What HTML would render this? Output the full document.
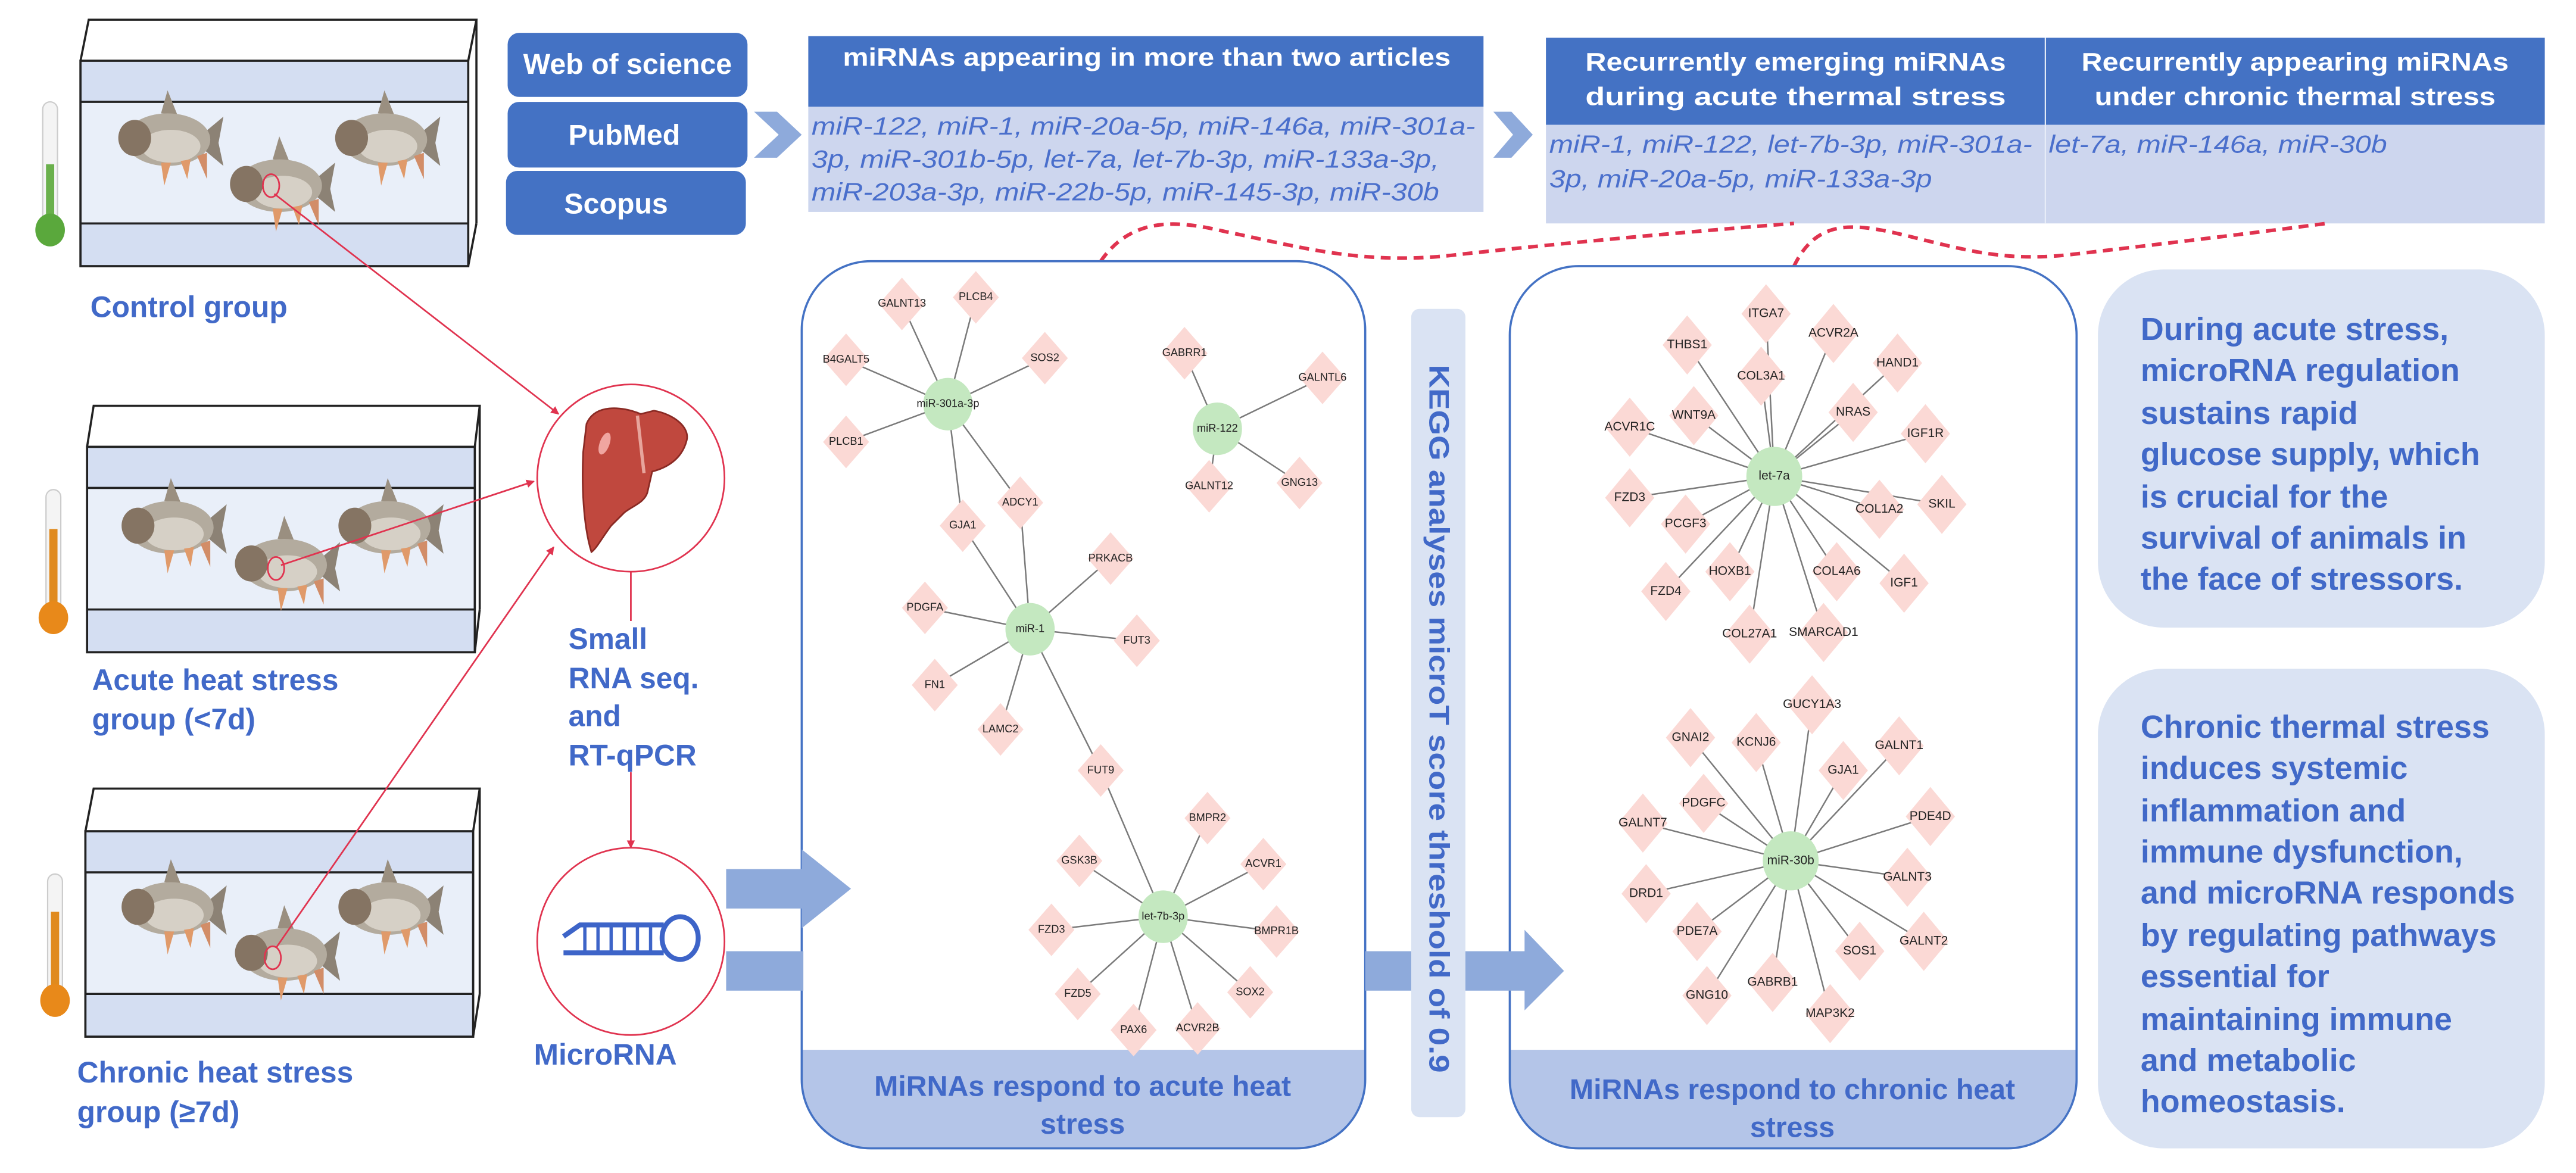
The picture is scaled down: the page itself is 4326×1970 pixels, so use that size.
<!DOCTYPE html>
<html><head><meta charset="utf-8"><style>
html,body{margin:0;padding:0;background:#fff}
svg{display:block}
.lb{font-family:"Liberation Sans",sans-serif;font-weight:bold;fill:#4169c8}
.hd{font-family:"Liberation Sans",sans-serif;font-weight:bold;fill:#fff}
.it{font-family:"Liberation Sans",sans-serif;font-style:italic;fill:#4a6fcc;font-size:15px}
.n{font-family:"Liberation Sans",sans-serif;font-size:6.6px;fill:#222;text-anchor:middle;dominant-baseline:middle}
.n2{font-family:"Liberation Sans",sans-serif;font-size:7.6px;fill:#222;text-anchor:middle;dominant-baseline:middle}
.e line{stroke:#7a7a7a;stroke-width:0.9}
</style></head><body>
<svg width="4326" height="1970" viewBox="0 0 1568 714" preserveAspectRatio="none" xmlns="http://www.w3.org/2000/svg">
<defs>
<g id="fish">
<polygon points="22,-4 34,-14 31,2 34,16 22,6" fill="#8c8275"/>
<polygon points="-4,-16 0,-30 6,-15" fill="#9a8f80"/>
<ellipse cx="0" cy="0" rx="26" ry="16" fill="#b3ab9e"/>
<ellipse cx="2" cy="4" rx="18" ry="10" fill="#d6d0c6"/>
<ellipse cx="-20" cy="-1" rx="10" ry="11" fill="#857463"/>
<polygon points="-4,14 -2,28 2,14" fill="#e09a6a"/>
<polygon points="8,13 12,24 14,12" fill="#e09a6a"/>
<polygon points="18,10 24,24 24,8" fill="#d28d68"/>
</g>
<marker id="ar" viewBox="0 0 10 10" refX="9" refY="5" markerWidth="5" markerHeight="5" orient="auto"><path d="M0,0 L10,5 L0,10 z" fill="#e0334f"/></marker>
<clipPath id="c1"><rect x="488" y="159" width="343" height="540" rx="42"/></clipPath>
<clipPath id="c2"><rect x="919" y="162" width="345" height="537" rx="42"/></clipPath>
</defs>

<!-- tanks -->
<g stroke="#222" stroke-width="1.3">
<rect x="49" y="37" width="236" height="125" fill="#e9eff9"/>
<rect x="49" y="37" width="236" height="25" fill="#d4def2" stroke="none"/>
<rect x="49" y="136" width="236" height="26" fill="#d4def2" stroke="none"/>
<polyline points="49,37 54,12 290,12 285,37" fill="none"/>
<line x1="290" y1="12" x2="290" y2="136"/>
<line x1="285" y1="162" x2="290" y2="136"/>
<rect x="49" y="37" width="236" height="125" fill="none"/>
<line x1="49" y1="62" x2="285" y2="62"/><line x1="49" y1="136" x2="285" y2="136"/>

<rect x="53" y="272" width="236" height="125" fill="#e9eff9"/>
<rect x="53" y="272" width="236" height="25" fill="#d4def2" stroke="none"/>
<rect x="53" y="371" width="236" height="26" fill="#d4def2" stroke="none"/>
<polyline points="53,272 57,247 292,247 289,272" fill="none"/>
<line x1="292" y1="247" x2="292" y2="371"/><line x1="289" y1="397" x2="292" y2="371"/>
<rect x="53" y="272" width="236" height="125" fill="none"/>
<line x1="53" y1="297" x2="289" y2="297"/><line x1="53" y1="371" x2="289" y2="371"/>

<rect x="52" y="506" width="236" height="125" fill="#e9eff9"/>
<rect x="52" y="506" width="236" height="25" fill="#d4def2" stroke="none"/>
<rect x="52" y="605" width="236" height="26" fill="#d4def2" stroke="none"/>
<polyline points="52,506 57,480 292,480 288,506" fill="none"/>
<line x1="292" y1="480" x2="292" y2="605"/><line x1="288" y1="631" x2="292" y2="605"/>
<rect x="52" y="506" width="236" height="125" fill="none"/>
<line x1="52" y1="531" x2="288" y2="531"/><line x1="52" y1="605" x2="288" y2="605"/>
</g>
<use href="#fish" x="102" y="85"/><use href="#fish" x="234" y="85"/><use href="#fish" x="170" y="113"/>
<use href="#fish" x="104" y="321"/><use href="#fish" x="236" y="321"/><use href="#fish" x="173" y="344"/>
<use href="#fish" x="104" y="553"/><use href="#fish" x="236" y="553"/><use href="#fish" x="173" y="581"/>

<!-- thermometers -->
<rect x="26" y="62" width="9" height="78" rx="4.5" fill="#f4f4f4" stroke="#ccc" stroke-width="0.8"/>
<rect x="28" y="100" width="5" height="40" fill="#6ab04c"/>
<ellipse cx="30.5" cy="140" rx="9" ry="10" fill="#5aa83c"/>
<rect x="28" y="298" width="9" height="78" rx="4.5" fill="#f4f4f4" stroke="#ccc" stroke-width="0.8"/>
<rect x="30" y="322" width="5" height="54" fill="#e08a1e"/>
<ellipse cx="32.5" cy="376" rx="9" ry="10" fill="#e8891a"/>
<rect x="29" y="532" width="9" height="78" rx="4.5" fill="#f4f4f4" stroke="#ccc" stroke-width="0.8"/>
<rect x="31" y="555" width="5" height="55" fill="#e08a1e"/>
<ellipse cx="33.5" cy="609" rx="9" ry="10" fill="#e8891a"/>

<text class="lb" x="55" y="193" font-size="18">Control group</text>
<text class="lb" x="56" y="420" font-size="18">Acute heat stress</text>
<text class="lb" x="56" y="444" font-size="18">group (&lt;7d)</text>
<text class="lb" x="47" y="659" font-size="18">Chronic heat stress</text>
<text class="lb" x="47" y="683" font-size="18">group (≥7d)</text>

<!-- red fish circles & arrows -->
<g fill="none" stroke="#e0334f" stroke-width="1">
<ellipse cx="165" cy="113" rx="5" ry="7"/><ellipse cx="168" cy="346" rx="5" ry="7"/><ellipse cx="166" cy="583" rx="5" ry="7"/>
<line x1="167" y1="118" x2="340" y2="252" marker-end="url(#ar)"/>
<line x1="171" y1="344" x2="325" y2="293" marker-end="url(#ar)"/>
<line x1="168" y1="577" x2="337" y2="333" marker-end="url(#ar)"/>
<circle cx="384" cy="291" r="57"/>
<line x1="384" y1="348" x2="384" y2="378"/>
<line x1="384" y1="470" x2="384" y2="516" marker-end="url(#ar)"/>
<circle cx="384" cy="573" r="57"/>
</g>
<!-- liver -->
<path d="M357,258 C362,246 378,247 390,252 L398,250 C410,252 420,260 418,268 C415,280 405,285 397,287 L394,300 C392,306 385,308 380,312 L372,320 C366,328 363,334 360,336 C355,320 354,295 355,275 Z" fill="#c0483e" stroke="#8a2a24" stroke-width="1"/>
<path d="M388,253 L392,288" stroke="#e7a59c" stroke-width="2"/>
<ellipse cx="368" cy="270" rx="3" ry="7" fill="#f0a5a0" transform="rotate(20 368 270)"/>

<text class="lb" x="346" y="395" font-size="18">Small</text>
<text class="lb" x="346" y="419" font-size="18">RNA seq.</text>
<text class="lb" x="346" y="442" font-size="18">and</text>
<text class="lb" x="346" y="466" font-size="18">RT-qPCR</text>
<text class="lb" x="325" y="648" font-size="18">MicroRNA</text>
<!-- microRNA icon -->
<g stroke="#3d64c8" stroke-width="3" fill="none">
<path d="M343,570 L353,563 L404,563"/><path d="M343,580 L404,580"/>
<ellipse cx="414" cy="571" rx="11" ry="13"/>
</g>
<g stroke="#3d64c8" stroke-width="2"><line x1="356" y1="563" x2="356" y2="580"/><line x1="364" y1="563" x2="364" y2="580"/><line x1="372" y1="563" x2="372" y2="580"/><line x1="380" y1="563" x2="380" y2="580"/><line x1="388" y1="563" x2="388" y2="580"/><line x1="396" y1="563" x2="396" y2="580"/></g>

<!-- databases -->
<rect x="309" y="20" width="146" height="39" rx="7" fill="#4472c4"/>
<rect x="309" y="62" width="146" height="40" rx="7" fill="#4472c4"/>
<rect x="308" y="104" width="146" height="39" rx="7" fill="#4472c4"/>
<text class="hd" x="382" y="45" font-size="17.5" text-anchor="middle">Web of science</text>
<text class="hd" x="380" y="88" font-size="17.5" text-anchor="middle">PubMed</text>
<text class="hd" x="375" y="130" font-size="17.5" text-anchor="middle">Scopus</text>
<polygon points="459,68 473,68 488,82 473,96 459,96 474,82" fill="#8eaadb"/>

<!-- header1 -->
<rect x="492" y="22" width="411" height="43" fill="#4472c4"/>
<rect x="492" y="65" width="411" height="64" fill="#cdd6ee"/>
<text class="hd" x="513" y="40" font-size="15.5" textLength="370" lengthAdjust="spacingAndGlyphs">miRNAs appearing in more than two articles</text>
<text class="it" x="494" y="82" textLength="404" lengthAdjust="spacingAndGlyphs">miR-122, miR-1, miR-20a-5p, miR-146a, miR-301a-</text>
<text class="it" x="494" y="102" textLength="382" lengthAdjust="spacingAndGlyphs">3p, miR-301b-5p, let-7a, let-7b-3p, miR-133a-3p,</text>
<text class="it" x="494" y="122" textLength="382" lengthAdjust="spacingAndGlyphs">miR-203a-3p, miR-22b-5p, miR-145-3p, miR-30b</text>
<polygon points="909,68 920,68 933,82 920,96 909,96 921,82" fill="#8eaadb"/>

<!-- header2 -->
<rect x="941" y="23" width="608" height="53" fill="#4472c4"/>
<rect x="941" y="76" width="608" height="60" fill="#cdd6ee"/>
<line x1="1245" y1="23" x2="1245" y2="136" stroke="#e8edf8" stroke-width="0.8"/>
<text class="hd" x="1093" y="43" font-size="15.5" text-anchor="middle" textLength="256" lengthAdjust="spacingAndGlyphs">Recurrently emerging miRNAs</text>
<text class="hd" x="1093" y="64" font-size="15.5" text-anchor="middle" textLength="256" lengthAdjust="spacingAndGlyphs">during acute thermal stress</text>
<text class="hd" x="1397" y="43" font-size="15.5" text-anchor="middle" textLength="260" lengthAdjust="spacingAndGlyphs">Recurrently appearing miRNAs</text>
<text class="hd" x="1397" y="64" font-size="15.5" text-anchor="middle" textLength="244" lengthAdjust="spacingAndGlyphs">under chronic thermal stress</text>
<text class="it" x="943" y="93" textLength="294" lengthAdjust="spacingAndGlyphs">miR-1, miR-122, let-7b-3p, miR-301a-</text>
<text class="it" x="943" y="114" textLength="233" lengthAdjust="spacingAndGlyphs">3p, miR-20a-5p, miR-133a-3p</text>
<text class="it" x="1247" y="93" textLength="206" lengthAdjust="spacingAndGlyphs">let-7a, miR-146a, miR-30b</text>

<!-- dashed curves -->
<g fill="none" stroke="#e0334f" stroke-width="2.2" stroke-dasharray="6,4">
<path d="M670,159 C690,130 720,135 746,141 C790,150 830,162 887,155 C960,147 1040,140 1092,136"/>
<path d="M1092,162 C1105,135 1125,136 1150,141 C1190,150 1215,160 1260,155 C1320,148 1370,142 1416,136"/>
</g>

<!-- panel1 -->
<rect x="488" y="159" width="343" height="540" rx="42" fill="#fff"/>
<rect x="488" y="639" width="343" height="60" fill="#b4c5e8" clip-path="url(#c1)"/>
<rect x="488" y="159" width="343" height="540" rx="42" fill="none" stroke="#4472c4" stroke-width="1.3"/>
<text class="lb" x="659" y="667" font-size="17.5" text-anchor="middle">MiRNAs respond to acute heat</text>
<text class="lb" x="659" y="690" font-size="17.5" text-anchor="middle">stress</text>

<g class="e">
<line x1="577" y1="246" x2="549" y2="185"/><line x1="577" y1="246" x2="594" y2="181"/><line x1="577" y1="246" x2="515" y2="219"/><line x1="577" y1="246" x2="636" y2="218"/><line x1="577" y1="246" x2="515" y2="269"/><line x1="577" y1="246" x2="621" y2="306"/><line x1="577" y1="246" x2="586" y2="320"/>
<line x1="741" y1="261" x2="721" y2="215"/><line x1="741" y1="261" x2="805" y2="230"/><line x1="741" y1="261" x2="736" y2="296"/><line x1="741" y1="261" x2="791" y2="294"/>
<line x1="627" y1="383" x2="586" y2="320"/><line x1="627" y1="383" x2="621" y2="306"/><line x1="627" y1="383" x2="676" y2="340"/><line x1="627" y1="383" x2="563" y2="370"/><line x1="627" y1="383" x2="692" y2="390"/><line x1="627" y1="383" x2="569" y2="417"/><line x1="627" y1="383" x2="609" y2="444"/><line x1="627" y1="383" x2="670" y2="469"/>
<line x1="708" y1="558" x2="670" y2="469"/><line x1="708" y1="558" x2="735" y2="498"/><line x1="708" y1="558" x2="657" y2="524"/><line x1="708" y1="558" x2="769" y2="526"/><line x1="708" y1="558" x2="640" y2="566"/><line x1="708" y1="558" x2="777" y2="567"/><line x1="708" y1="558" x2="656" y2="605"/><line x1="708" y1="558" x2="761" y2="604"/><line x1="708" y1="558" x2="690" y2="627"/><line x1="708" y1="558" x2="729" y2="626"/>
</g>
<g fill="#fbd9d5">
<path d="M549,169l14,16l-14,16l-14,-16z"/><path d="M594,165l14,16l-14,16l-14,-16z"/><path d="M515,203l14,16l-14,16l-14,-16z"/><path d="M636,202l14,16l-14,16l-14,-16z"/><path d="M515,253l14,16l-14,16l-14,-16z"/><path d="M621,290l14,16l-14,16l-14,-16z"/><path d="M586,304l14,16l-14,16l-14,-16z"/>
<path d="M721,199l14,16l-14,16l-14,-16z"/><path d="M805,214l14,16l-14,16l-14,-16z"/><path d="M736,280l14,16l-14,16l-14,-16z"/><path d="M791,278l14,16l-14,16l-14,-16z"/>
<path d="M676,324l14,16l-14,16l-14,-16z"/><path d="M563,354l14,16l-14,16l-14,-16z"/><path d="M692,374l14,16l-14,16l-14,-16z"/><path d="M569,401l14,16l-14,16l-14,-16z"/><path d="M609,428l14,16l-14,16l-14,-16z"/><path d="M670,453l14,16l-14,16l-14,-16z"/>
<path d="M735,482l14,16l-14,16l-14,-16z"/><path d="M657,508l14,16l-14,16l-14,-16z"/><path d="M769,510l14,16l-14,16l-14,-16z"/><path d="M640,550l14,16l-14,16l-14,-16z"/><path d="M777,551l14,16l-14,16l-14,-16z"/><path d="M656,589l14,16l-14,16l-14,-16z"/><path d="M761,588l14,16l-14,16l-14,-16z"/><path d="M690,611l14,16l-14,16l-14,-16z"/><path d="M729,610l14,16l-14,16l-14,-16z"/>
</g>
<g fill="#c4e8c0"><ellipse cx="577" cy="246" rx="15" ry="16"/><ellipse cx="741" cy="261" rx="15" ry="16"/><ellipse cx="627" cy="383" rx="15" ry="16"/><ellipse cx="708" cy="558" rx="15" ry="16"/></g>
<g>
<text class="n" x="577" y="246">miR-301a-3p</text><text class="n" x="741" y="261">miR-122</text><text class="n" x="627" y="383">miR-1</text><text class="n" x="708" y="558">let-7b-3p</text>
<text class="n" x="549" y="185">GALNT13</text><text class="n" x="594" y="181">PLCB4</text><text class="n" x="515" y="219">B4GALT5</text><text class="n" x="636" y="218">SOS2</text><text class="n" x="515" y="269">PLCB1</text><text class="n" x="621" y="306">ADCY1</text><text class="n" x="586" y="320">GJA1</text>
<text class="n" x="721" y="215">GABRR1</text><text class="n" x="805" y="230">GALNTL6</text><text class="n" x="736" y="296">GALNT12</text><text class="n" x="791" y="294">GNG13</text>
<text class="n" x="676" y="340">PRKACB</text><text class="n" x="563" y="370">PDGFA</text><text class="n" x="692" y="390">FUT3</text><text class="n" x="569" y="417">FN1</text><text class="n" x="609" y="444">LAMC2</text><text class="n" x="670" y="469">FUT9</text>
<text class="n" x="735" y="498">BMPR2</text><text class="n" x="657" y="524">GSK3B</text><text class="n" x="769" y="526">ACVR1</text><text class="n" x="640" y="566">FZD3</text><text class="n" x="777" y="567">BMPR1B</text><text class="n" x="656" y="605">FZD5</text><text class="n" x="761" y="604">SOX2</text><text class="n" x="690" y="627">PAX6</text><text class="n" x="729" y="626">ACVR2B</text>
</g>

<!-- panel2 -->
<rect x="919" y="162" width="345" height="537" rx="42" fill="#fff"/>
<rect x="919" y="639" width="345" height="60" fill="#b4c5e8" clip-path="url(#c2)"/>
<rect x="919" y="162" width="345" height="537" rx="42" fill="none" stroke="#4472c4" stroke-width="1.3"/>
<text class="lb" x="1091" y="669" font-size="17.5" text-anchor="middle">MiRNAs respond to chronic heat</text>
<text class="lb" x="1091" y="692" font-size="17.5" text-anchor="middle">stress</text>

<g class="e">
<line x1="1080" y1="290" x2="1075" y2="191"/><line x1="1080" y1="290" x2="1116" y2="203"/><line x1="1080" y1="290" x2="1027" y2="210"/><line x1="1080" y1="290" x2="1155" y2="221"/><line x1="1080" y1="290" x2="1072" y2="229"/><line x1="1080" y1="290" x2="1031" y2="253"/><line x1="1080" y1="290" x2="992" y2="260"/><line x1="1080" y1="290" x2="1128" y2="251"/><line x1="1080" y1="290" x2="1172" y2="264"/><line x1="1080" y1="290" x2="992" y2="303"/><line x1="1080" y1="290" x2="1144" y2="310"/><line x1="1080" y1="290" x2="1182" y2="307"/><line x1="1080" y1="290" x2="1026" y2="319"/><line x1="1080" y1="290" x2="1053" y2="348"/><line x1="1080" y1="290" x2="1118" y2="348"/><line x1="1080" y1="290" x2="1159" y2="355"/><line x1="1080" y1="290" x2="1014" y2="360"/><line x1="1080" y1="290" x2="1065" y2="386"/><line x1="1080" y1="290" x2="1110" y2="385"/>
<line x1="1090" y1="524" x2="1103" y2="429"/><line x1="1090" y1="524" x2="1029" y2="449"/><line x1="1090" y1="524" x2="1069" y2="452"/><line x1="1090" y1="524" x2="1156" y2="454"/><line x1="1090" y1="524" x2="1122" y2="469"/><line x1="1090" y1="524" x2="1037" y2="489"/><line x1="1090" y1="524" x2="1175" y2="497"/><line x1="1090" y1="524" x2="1000" y2="501"/><line x1="1090" y1="524" x2="1161" y2="534"/><line x1="1090" y1="524" x2="1002" y2="544"/><line x1="1090" y1="524" x2="1033" y2="567"/><line x1="1090" y1="524" x2="1132" y2="579"/><line x1="1090" y1="524" x2="1171" y2="573"/><line x1="1090" y1="524" x2="1079" y2="598"/><line x1="1090" y1="524" x2="1039" y2="606"/><line x1="1090" y1="524" x2="1114" y2="617"/>
</g>
<g fill="#fbd9d5">
<path d="M1075,173l15,18l-15,18l-15,-18z"/><path d="M1116,185l15,18l-15,18l-15,-18z"/><path d="M1027,192l15,18l-15,18l-15,-18z"/><path d="M1155,203l15,18l-15,18l-15,-18z"/><path d="M1072,211l15,18l-15,18l-15,-18z"/><path d="M1031,235l15,18l-15,18l-15,-18z"/><path d="M992,242l15,18l-15,18l-15,-18z"/><path d="M1128,233l15,18l-15,18l-15,-18z"/><path d="M1172,246l15,18l-15,18l-15,-18z"/><path d="M992,285l15,18l-15,18l-15,-18z"/><path d="M1144,292l15,18l-15,18l-15,-18z"/><path d="M1182,289l15,18l-15,18l-15,-18z"/><path d="M1026,301l15,18l-15,18l-15,-18z"/><path d="M1053,330l15,18l-15,18l-15,-18z"/><path d="M1118,330l15,18l-15,18l-15,-18z"/><path d="M1159,337l15,18l-15,18l-15,-18z"/><path d="M1014,342l15,18l-15,18l-15,-18z"/><path d="M1065,368l15,18l-15,18l-15,-18z"/><path d="M1110,367l15,18l-15,18l-15,-18z"/>
<path d="M1103,411l15,18l-15,18l-15,-18z"/><path d="M1029,431l15,18l-15,18l-15,-18z"/><path d="M1069,434l15,18l-15,18l-15,-18z"/><path d="M1156,436l15,18l-15,18l-15,-18z"/><path d="M1122,451l15,18l-15,18l-15,-18z"/><path d="M1037,471l15,18l-15,18l-15,-18z"/><path d="M1175,479l15,18l-15,18l-15,-18z"/><path d="M1000,483l15,18l-15,18l-15,-18z"/><path d="M1161,516l15,18l-15,18l-15,-18z"/><path d="M1002,526l15,18l-15,18l-15,-18z"/><path d="M1033,549l15,18l-15,18l-15,-18z"/><path d="M1132,561l15,18l-15,18l-15,-18z"/><path d="M1171,555l15,18l-15,18l-15,-18z"/><path d="M1079,580l15,18l-15,18l-15,-18z"/><path d="M1039,588l15,18l-15,18l-15,-18z"/><path d="M1114,599l15,18l-15,18l-15,-18z"/>
</g>
<g fill="#c4e8c0"><ellipse cx="1080" cy="290" rx="17" ry="18"/><ellipse cx="1090" cy="524" rx="17" ry="18"/></g>
<g>
<text class="n2" x="1080" y="290">let-7a</text><text class="n2" x="1090" y="524">miR-30b</text>
<text class="n2" x="1075" y="191">ITGA7</text><text class="n2" x="1116" y="203">ACVR2A</text><text class="n2" x="1027" y="210">THBS1</text><text class="n2" x="1155" y="221">HAND1</text><text class="n2" x="1072" y="229">COL3A1</text><text class="n2" x="1031" y="253">WNT9A</text><text class="n2" x="992" y="260">ACVR1C</text><text class="n2" x="1128" y="251">NRAS</text><text class="n2" x="1172" y="264">IGF1R</text><text class="n2" x="992" y="303">FZD3</text><text class="n2" x="1144" y="310">COL1A2</text><text class="n2" x="1182" y="307">SKIL</text><text class="n2" x="1026" y="319">PCGF3</text><text class="n2" x="1053" y="348">HOXB1</text><text class="n2" x="1118" y="348">COL4A6</text><text class="n2" x="1159" y="355">IGF1</text><text class="n2" x="1014" y="360">FZD4</text><text class="n2" x="1065" y="386">COL27A1</text><text class="n2" x="1110" y="385">SMARCAD1</text>
<text class="n2" x="1103" y="429">GUCY1A3</text><text class="n2" x="1029" y="449">GNAI2</text><text class="n2" x="1069" y="452">KCNJ6</text><text class="n2" x="1156" y="454">GALNT1</text><text class="n2" x="1122" y="469">GJA1</text><text class="n2" x="1037" y="489">PDGFC</text><text class="n2" x="1175" y="497">PDE4D</text><text class="n2" x="1000" y="501">GALNT7</text><text class="n2" x="1161" y="534">GALNT3</text><text class="n2" x="1002" y="544">DRD1</text><text class="n2" x="1033" y="567">PDE7A</text><text class="n2" x="1132" y="579">SOS1</text><text class="n2" x="1171" y="573">GALNT2</text><text class="n2" x="1079" y="598">GABRB1</text><text class="n2" x="1039" y="606">GNG10</text><text class="n2" x="1114" y="617">MAP3K2</text>
</g>

<!-- arrows (drawn over panels) -->
<rect x="442" y="529" width="47" height="24" fill="#8eaadb"/>
<polygon points="488,517 518,541 488,565" fill="#8eaadb"/>
<rect x="442" y="579" width="47" height="24" fill="#8eaadb"/>
<rect x="831" y="579" width="98" height="24" fill="#8eaadb"/>
<polygon points="928,566 952,591 928,615" fill="#8eaadb"/>

<!-- KEGG bar -->
<rect x="859" y="188" width="33" height="492" rx="5" fill="#dae3f3"/>
<text class="lb" font-size="17" transform="translate(870,222) rotate(90)" textLength="431" lengthAdjust="spacingAndGlyphs">KEGG analyses microT score threshold of 0.9</text>

<!-- right boxes -->
<rect x="1277" y="164" width="272" height="218" rx="40" fill="#dae3f3"/>
<rect x="1277" y="407" width="272" height="292" rx="40" fill="#dae3f3"/>
<g class="lb" font-size="19.5">
<text x="1303" y="207">During acute stress,</text>
<text x="1303" y="232">microRNA regulation</text>
<text x="1303" y="258">sustains rapid</text>
<text x="1303" y="283">glucose supply, which</text>
<text x="1303" y="309">is crucial for the</text>
<text x="1303" y="334">survival of animals in</text>
<text x="1303" y="359">the face of stressors.</text>
<text x="1303" y="449">Chronic thermal stress</text>
<text x="1303" y="474">induces systemic</text>
<text x="1303" y="500">inflammation and</text>
<text x="1303" y="525">immune dysfunction,</text>
<text x="1303" y="550">and microRNA responds</text>
<text x="1303" y="576">by regulating pathways</text>
<text x="1303" y="601">essential for</text>
<text x="1303" y="627">maintaining immune</text>
<text x="1303" y="652">and metabolic</text>
<text x="1303" y="677">homeostasis.</text>
</g>
</svg>
</body></html>
